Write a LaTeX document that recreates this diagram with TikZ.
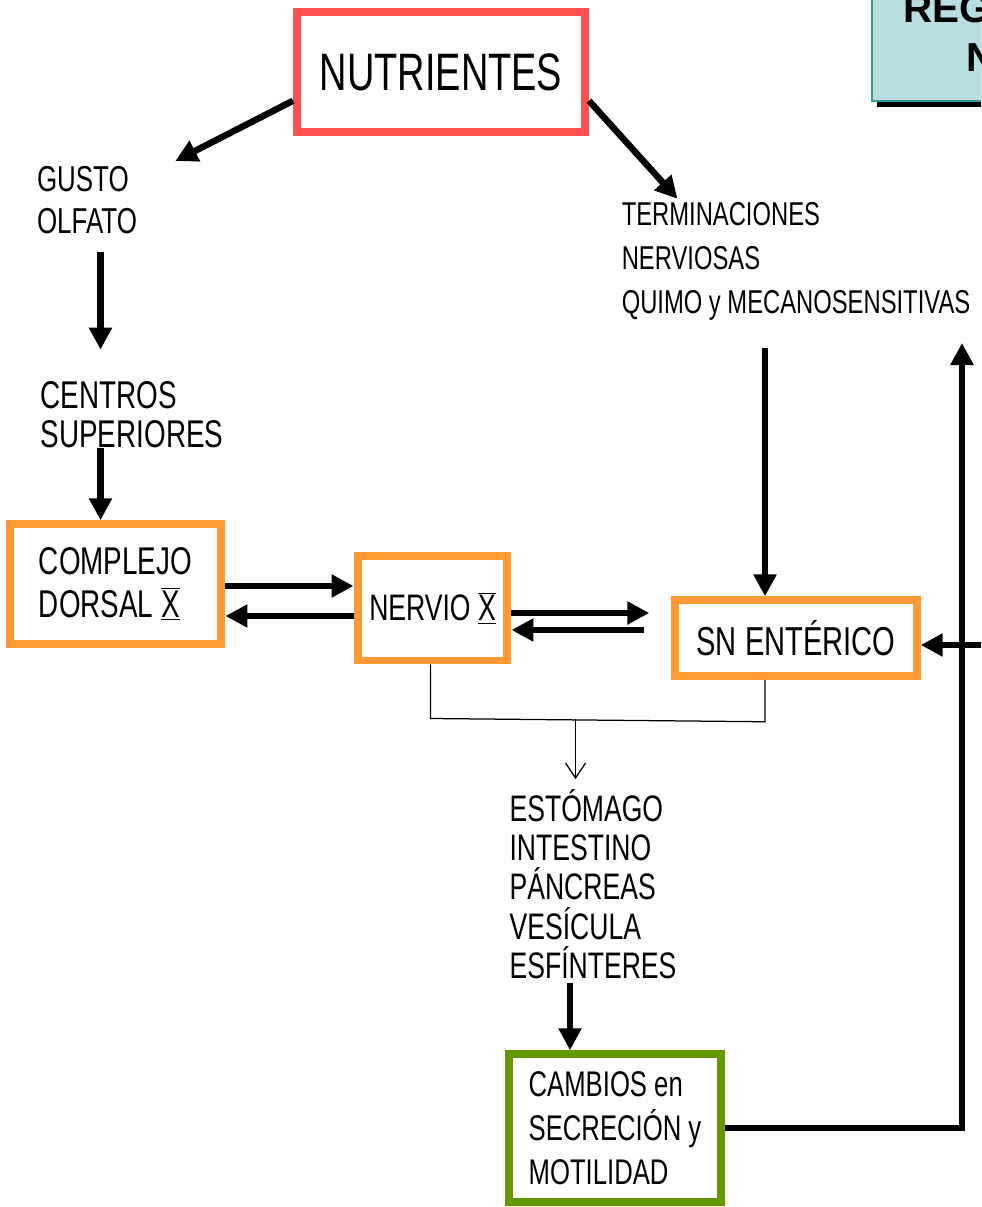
\documentclass[tikz,border=0pt]{standalone}
\usepackage{fontspec}
\setmainfont{Liberation Sans}[FakeStretch=0.72]
\newfontfamily\titulofont{Liberation Sans}
\usetikzlibrary{arrows.meta,calc}

\definecolor{rojo}{RGB}{255,80,80}
\definecolor{naranja}{RGB}{255,153,51}
\definecolor{verde}{RGB}{102,153,0}
\definecolor{celeste}{RGB}{184,222,226}
\definecolor{turquesa}{RGB}{51,153,153}

\newcommand{\romano}[1]{$\overline{\underline{\mbox{#1}}}$}

\begin{document}
\begin{tikzpicture}[x=0.02cm, y=-0.02cm,
    caja/.style={draw, line width=0.16cm, inner sep=0pt, align=left},
    texto/.style={inner sep=0pt, align=left},
    flecha/.style={line width=0.13cm, -{Triangle[length=0.44cm, width=0.44cm]}},
    linea/.style={line width=0.025cm}]

    \useasboundingbox (0,0) rectangle (981,1207);
    \clip (0,0) rectangle (981,1207);

    \fill (877,-20) rectangle (1000,107);
    \draw[turquesa, fill=celeste, line width=0.04cm] (872,-30) rectangle (1000,101);
    \node[anchor=base west, inner sep=0pt, font=\titulofont\bfseries\fontsize{23}{27}\selectfont] (tituloA) at (903,22) {REG};
    \node[anchor=base west, inner sep=0pt, font=\titulofont\bfseries\fontsize{23}{27}\selectfont] (tituloB) at (966,71) {N};

    \node[caja, draw=rojo, minimum width=5.76cm, minimum height=2.42cm, font=\fontsize{30}{34}\selectfont] (nutri) at (441,72) {NUTRIENTES};
    \node[texto, font=\fontsize{20.5}{23.8}\selectfont] (gusto) at (87,200) {GUSTO\\OLFATO};
    \node[texto, font=\fontsize{22}{22}\selectfont] (centros) at (132,415) {CENTROS\\SUPERIORES};
    \node[caja, draw=naranja, minimum width=4.24cm, minimum height=2.39cm, font=\fontsize{22}{24.4}\selectfont] (cd) at (115.5,584) {COMPLEJO\\DORSAL \romano{X}};
    \node[caja, draw=naranja, minimum width=3cm, minimum height=2.1cm, font=\fontsize{21}{23}\selectfont] (nervio) at (432.5,608) {NERVIO \romano{X}};
    \node[caja, draw=naranja, minimum width=4.83cm, minimum height=1.51cm, font=\fontsize{23}{25}\selectfont] (sn) at (796,638) {SN ENTÉRICO};
    \node[texto, font=\fontsize{18.8}{25}\selectfont] (term) at (796,261) {TERMINACIONES\\NERVIOSAS\\QUIMO y MECANOSENSITIVAS};
    \node[texto, font=\fontsize{21}{22.3}\selectfont] (estomago) at (593,884) {ESTÓMAGO\\INTESTINO\\PÁNCREAS\\VESÍCULA\\ESFÍNTERES};
    \node[caja, draw=verde, minimum width=4.23cm, minimum height=2.95cm, font=\fontsize{20.3}{25}\selectfont] (cambios) at (615,1128) {CAMBIOS en\\SECRECIÓN y\\MOTILIDAD};

    \draw[flecha] (nutri.191) -- ($(gusto.north east)+(38,-5)$);
    \draw[flecha] (nutri.349) -- ($(term.north west)+(56,-3)$);
    \draw[flecha] ($(gusto.south -| cd.north)+(-15,18)$) -- ($(centros.north -| cd.north)+(-15,-32)$);
    \draw[flecha] ($(centros.south -| cd.north)+(-15,0)$) -- ($(cd.north)+(-15,0)$);

    \draw[flecha] ($(cd.east)+(0,2)$) -- ($(cd.east -| nervio.west)+(0,2)$);
    \draw[flecha] ($(nervio.west)+(0,8)$) -- ($(nervio.west -| cd.east)+(0,8)$);
    \draw[flecha] ($(nervio.east)+(0,5)$) -- ($(sn.west |- nervio.east)+(-22,5)$);
    \draw[flecha] ($(sn.west)+(-27,-8)$) -- ($(nervio.east |- sn.west)+(0,-8)$);

    \coordinate (entrada) at ($(sn.north)+(-31,0)$);
    \draw[flecha] ($(entrada |- term.south)+(0,28)$) -- (entrada);
    \draw[flecha] ($(sn.east)+(70,7)$) -- ($(sn.east)+(0,7)$);

    \coordinate (retorno) at (962,343);
    \draw[flecha] (cambios.east) -| (retorno);

    \draw[linea] ($(nervio.south)+(-2,0)$) -- ++(0,54) -- ($(sn.south)+(-31,42)$) -- ($(sn.south)+(-31,0)$);
    \coordinate (junta) at ($(nervio.south)+(143,55)$);
    \draw[linea, -{Straight Barb[length=0.3cm, width=0.4cm]}] (junta) -- ($(junta |- estomago.north)+(0,-10)$);
    \draw[flecha] ($(cambios.north |- estomago.south)+(-45,4)$) -- ($(cambios.north)+(-45,0)$);
  \end{tikzpicture}
\end{document}
